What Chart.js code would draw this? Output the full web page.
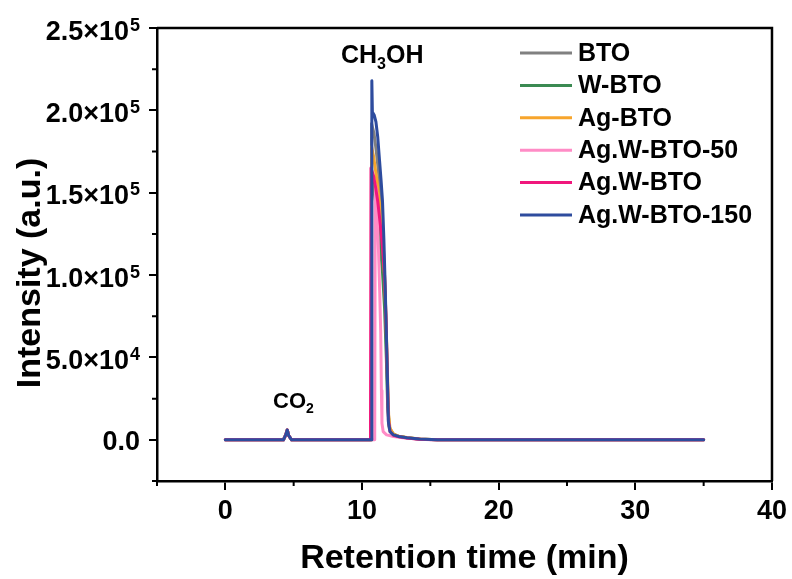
<!DOCTYPE html>
<html>
<head>
<meta charset="utf-8">
<script src="https://cdn.jsdelivr.net/npm/chart.js@4/dist/chart.umd.min.js"></script>
<style>
  html, body { margin: 0; padding: 0; background: #ffffff; }
  #wrap { width: 792px; height: 579px; }
</style>
</head>
<body>
<div id="wrap"><canvas id="c" width="792" height="579"></canvas></div>
<script>
// ---------- data ----------
const seriesNames = ['BTO', 'W-BTO', 'Ag-BTO', 'Ag.W-BTO-50', 'Ag.W-BTO', 'Ag.W-BTO-150'];
const seriesColors = ['#808080', '#3b8a52', '#f7a52c', '#ff8cc6', '#f0177c', '#2e4c9e'];

const btoTime = [0, 4.25, 4.42, 4.53, 4.64, 4.85, 10.66, 10.7, 10.88, 11.05, 11.19, 11.35, 11.5, 11.6, 11.7, 11.8, 11.9, 12.0, 12.2, 12.6, 13.3, 14.2, 15.5, 35];
const btoIntensity = [0, 0, 3000, 6000, 2500, 0, 0, 192000, 186000, 175000, 164000, 150000, 130000, 110000, 85000, 55000, 20000, 8000, 4000, 2200, 1200, 500, 0, 0];

const wbtoTime = [0, 4.25, 4.42, 4.53, 4.64, 4.85, 10.66, 10.7, 10.9, 11.1, 11.3, 11.5, 11.65, 11.78, 11.88, 12.0, 12.3, 12.7, 13.4, 14.3, 15.5, 35];
const wbtoIntensity = [0, 0, 3000, 6000, 2500, 0, 0, 160000, 150000, 138000, 122000, 102000, 80000, 50000, 20000, 7000, 3500, 2000, 1100, 400, 0, 0];

const agbtoTime = [0, 4.25, 4.42, 4.53, 4.64, 4.85, 10.66, 10.7, 10.85, 10.95, 11.1, 11.3, 11.5, 11.65, 11.75, 11.85, 11.95, 12.05, 12.3, 12.7, 13.4, 14.3, 15.5, 35];
const agbtoIntensity = [0, 0, 3000, 6000, 2500, 0, 0, 178000, 172000, 166000, 157000, 142000, 122000, 100000, 75000, 45000, 15000, 7000, 3500, 2200, 1300, 500, 0, 0];

const agw50Time = [0, 4.25, 4.42, 4.53, 4.64, 4.85, 10.93, 10.97, 11.08, 11.2, 11.3, 11.37, 11.42, 11.46, 11.55, 11.8, 12.3, 13.0, 14.0, 15.0, 35];
const agw50Intensity = [0, 0, 3000, 6000, 2500, 0, 0, 155000, 150000, 117000, 89000, 65000, 30000, 10000, 5000, 3000, 2000, 1200, 500, 0, 0];

const agwTime = [0, 4.25, 4.42, 4.53, 4.64, 4.85, 10.62, 10.66, 10.85, 11.0, 11.15, 11.35, 11.5, 11.65, 11.75, 11.85, 11.93, 12.05, 12.3, 12.7, 13.3, 14.2, 15.5, 35];
const agwIntensity = [0, 0, 3000, 6000, 2500, 0, 0, 165000, 160000, 153000, 145000, 130000, 117000, 100000, 75000, 40000, 12000, 5000, 2800, 1800, 1100, 400, 0, 0];

const agw150Time = [0, 4.25, 4.42, 4.53, 4.64, 4.85, 10.68, 10.72, 10.76, 10.9, 11.02, 11.15, 11.28, 11.4, 11.5, 11.6, 11.68, 11.75, 11.85, 11.93, 12.05, 12.3, 12.7, 13.3, 14.2, 15.5, 35];
const agw150Intensity = [0, 0, 3000, 6000, 2500, 0, 0, 218000, 199000, 197000, 193000, 184000, 170000, 157000, 145000, 122000, 98000, 76000, 42000, 11000, 5000, 3000, 2000, 1200, 500, 0, 0];

const xMajorTicks = [0, 10, 20, 30, 40];
const xMinorTicks = [-5, 5, 15, 25, 35];
const yMajorTicks = [0, 50000, 100000, 150000, 200000, 250000];
const yLabelMantissa = ['0.0', '5.0×10', '1.0×10', '1.5×10', '2.0×10', '2.5×10'];
const yLabelExponent = ['', '4', '5', '5', '5', '5'];
const yMinorTicks = [-25000, 25000, 75000, 125000, 175000, 225000];

const allTimes = [btoTime, wbtoTime, agbtoTime, agw50Time, agwTime, agw150Time];
const allIntensities = [btoIntensity, wbtoIntensity, agbtoIntensity, agw50Intensity, agwIntensity, agw150Intensity];

// ---------- chart ----------
const FONT = '"Liberation Sans", Arial, Helvetica, sans-serif';

const datasets = seriesNames.map((name, i) => ({
  label: name,
  data: allTimes[i].map((t, k) => ({ x: t, y: allIntensities[i][k] })),
  borderColor: seriesColors[i],
  backgroundColor: seriesColors[i],
  borderWidth: 3,
  borderJoinStyle: 'round',
  borderCapStyle: 'round',
  pointRadius: 0,
  tension: 0,
  fill: false,
  order: seriesNames.length - i
}));

const decorPlugin = {
  id: 'decor',
  afterDraw(chart) {
    const ctx = chart.ctx;
    const xs = chart.scales.x, ys = chart.scales.y;
    const a = chart.chartArea;
    ctx.save();
    // frame top & right
    ctx.strokeStyle = '#000';
    ctx.lineWidth = 2.5;
    ctx.beginPath();
    ctx.moveTo(a.left, a.top);
    ctx.lineTo(a.right, a.top);
    ctx.lineTo(a.right, a.bottom);
    ctx.stroke();
    // minor ticks
    ctx.lineWidth = 2;
    ctx.beginPath();
    xMinorTicks.forEach(v => {
      const px = xs.getPixelForValue(v);
      ctx.moveTo(px, a.bottom);
      ctx.lineTo(px, a.bottom + 5);
    });
    yMinorTicks.forEach(v => {
      const py = ys.getPixelForValue(v);
      ctx.moveTo(a.left, py);
      ctx.lineTo(a.left - 5, py);
    });
    ctx.stroke();

    // y tick labels with superscript exponents
    ctx.fillStyle = '#000';
    ctx.textBaseline = 'alphabetic';
    ctx.textAlign = 'left';
    const rightEdge = a.left - 17;
    yMajorTicks.forEach((v, i) => {
      const py = ys.getPixelForValue(v);
      const base = yLabelMantissa[i], sup = yLabelExponent[i];
      ctx.font = 'bold 18px ' + FONT;
      const sw = sup ? ctx.measureText(sup).width + 1 : 0;
      ctx.font = 'bold 27px ' + FONT;
      const bw = ctx.measureText(base).width;
      const bl = py + (sup ? 11.5 : 9.7);
      ctx.fillText(base, rightEdge - sw - bw, bl);
      if (sup) {
        ctx.font = 'bold 18px ' + FONT;
        ctx.fillText(sup, rightEdge - sw + 1, bl - 9);
      }
    });

    // y axis title
    ctx.save();
    ctx.translate(31, 273);
    ctx.rotate(-Math.PI / 2);
    ctx.font = 'bold 34px ' + FONT;
    ctx.textAlign = 'center';
    ctx.textBaseline = 'middle';
    ctx.fillText('Intensity (a.u.)', 0, 0);
    ctx.restore();

    // legend
    const lx0 = 520, lx1 = 572, tx = 578, ly0 = 53, dy = 32.4;
    ctx.font = 'bold 25px ' + FONT;
    ctx.textBaseline = 'middle';
    ctx.textAlign = 'left';
    chart.data.datasets.forEach((ds, i) => {
      const y = ly0 + i * dy;
      ctx.strokeStyle = ds.borderColor;
      ctx.lineWidth = 3;
      ctx.beginPath();
      ctx.moveTo(lx0, y);
      ctx.lineTo(lx1, y);
      ctx.stroke();
      ctx.fillStyle = '#000';
      ctx.fillText(ds.label, tx, y + 1);
    });

    // peak annotations
    ctx.fillStyle = '#000';
    ctx.textBaseline = 'alphabetic';
    function subText(parts, x, baseline, size) {
      let cx = x;
      parts.forEach(p => {
        const s = p.sub ? Math.round(size * 0.62) : size;
        ctx.font = 'bold ' + s + 'px ' + FONT;
        ctx.fillText(p.t, cx, baseline + (p.sub ? size * 0.22 : 0));
        cx += ctx.measureText(p.t).width;
      });
    }
    subText([{ t: 'CH' }, { t: '3', sub: true }, { t: 'OH' }], 341, 63, 25);
    subText([{ t: 'CO' }, { t: '2', sub: true }], 273, 408, 22);
    ctx.restore();
  }
};

new Chart(document.getElementById('c'), {
  type: 'line',
  data: { datasets },
  options: {
    responsive: false,
    animation: false,
    devicePixelRatio: 1,
    layout: { padding: { left: 0, right: 16, top: 28, bottom: 0 } },
    plugins: { legend: { display: false }, tooltip: { enabled: false } },
    scales: {
      x: {
        type: 'linear',
        min: -5,
        max: 40,
        afterBuildTicks: s => { s.ticks = xMajorTicks.map(v => ({ value: v })); },
        afterFit: s => { s.height = 98; },
        ticks: {
          color: '#000',
          font: { family: FONT, size: 27, weight: 'bold' },
          padding: 5,
          maxRotation: 0,
          callback: v => String(v)
        },
        grid: { display: true, drawOnChartArea: false, drawTicks: true, tickLength: 9, color: '#000', lineWidth: 2 },
        border: { display: true, color: '#000', width: 2.5 },
        title: {
          display: true,
          text: 'Retention time (min)',
          color: '#000',
          font: { family: FONT, size: 34, weight: 'bold' },
          padding: { top: 2, bottom: 0 }
        }
      },
      y: {
        type: 'linear',
        min: -25000,
        max: 250000,
        afterBuildTicks: s => { s.ticks = yMajorTicks.map(v => ({ value: v })); },
        afterFit: s => { s.width = 157; },
        ticks: {
          color: '#000',
          font: { family: FONT, size: 27, weight: 'bold' },
          padding: 8,
          callback: () => ''
        },
        grid: { display: true, drawOnChartArea: false, drawTicks: true, tickLength: 8, color: '#000', lineWidth: 2 },
        border: { display: true, color: '#000', width: 2.5 },
        title: { display: false }
      }
    }
  },
  plugins: [decorPlugin]
});
</script>
</body>
</html>
